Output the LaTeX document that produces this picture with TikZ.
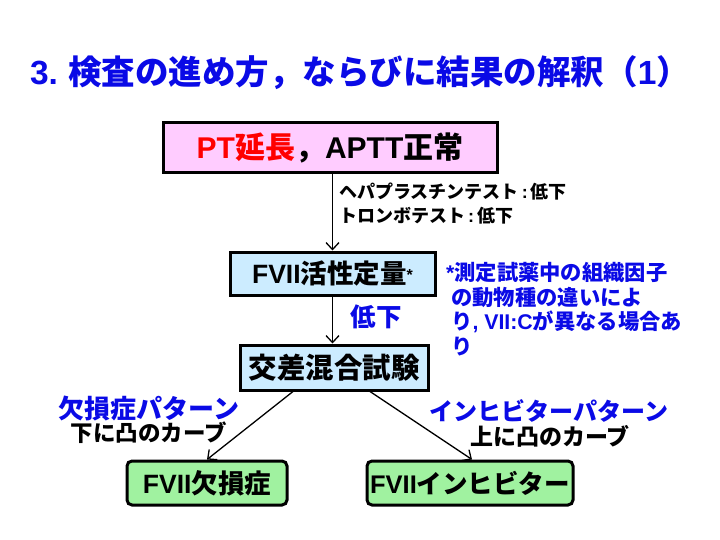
\documentclass[tikz,border=0pt]{standalone}
\usepackage{fontspec}
\setmainfont{Noto Sans CJK JP}
\newfontfamily\lat{Liberation Sans}
\newcommand\La[1]{{\lat\bfseries #1}}
\newcommand\fs[1]{\fontsize{#1}{#1}\selectfont}
\usetikzlibrary{arrows.meta}
\definecolor{pinkbox}{HTML}{FFCCFF}
\definecolor{bluebox}{HTML}{CCECFF}
\definecolor{greenbox}{HTML}{A0F2A0}
\definecolor{titleblue}{HTML}{0A0AE6}
\begin{document}
\begin{tikzpicture}[x=1pt,y=-1pt,
  every node/.style={font=\bfseries},
  box/.style={draw=black,line width=3pt,inner sep=0pt},
  gbox/.style={box,fill=greenbox,rounded corners=5pt},
  txt/.style={inner sep=0pt},
  note/.style={txt,anchor=west,text=titleblue,font=\bfseries\fs{21.3}},
  arr/.style={line width=1.3pt,-{Straight Barb[length=7pt,width=13pt,line width=1.3pt]}}]
\useasboundingbox (0,0) rectangle (720,540);
\node[txt,text=titleblue,font=\bfseries\fs{33.5}] (title) at (360,73) {\La{3.} 検査の進め方，ならびに結果の解釈（\La{1}）};
\node[box,fill=pinkbox,minimum width=334pt,minimum height=50pt,font=\bfseries\fs{30}] (b1) at (330,148)
  {{\color{red}\La{PT}延長}，\La{APTT}正常};
\node[box,fill=bluebox,minimum width=205pt,minimum height=43pt,font=\bfseries\fs{26.5}] (b2) at (332.5,273.5)
  {\La{FVII}活性定量\raisebox{3pt}{\La{\fs{16}*}}};
\node[box,fill=bluebox,minimum width=188pt,minimum height=45pt,font=\bfseries\fs{28.5}] (b3) at (334,367.5)
  {交差混合試験};
\node[gbox,minimum width=160pt,minimum height=44pt,font=\bfseries\fs{26.5}] (g1) at (207,483)
  {\La{FVII}欠損症};
\node[gbox,minimum width=206pt,minimum height=44pt,font=\bfseries\fs{25.5}] (g2) at (470,483)
  {\La{FVII}インヒビター};
\node[txt,anchor=west,font=\bfseries\fs{18}] (l1) at (339,192) {ヘパプラスチンテスト\La{\,:\,}低下};
\node[txt,anchor=west,font=\bfseries\fs{18}] (l2) at (339,216) {トロンボテスト\La{\,:\,}低下};
\node[txt,text=titleblue,font=\bfseries\fs{25.5}] (low) at (376,317) {低下};
\node[note] (n1) at (446,272) {\La{*}測定試薬中の組織因子};
\node[note] (n2) at (451,297) {の動物種の違いによ};
\node[note] (n3) at (451,322) {り\La{, VII:C}が異なる場合あ};
\node[note] (n4) at (451,347) {り};
\node[txt,text=titleblue,font=\bfseries\fs{26}] (p1) at (149,408) {欠損症パターン};
\node[txt,font=\bfseries\fs{22.5}] (c1) at (149,433) {下に凸のカーブ};
\node[txt,text=titleblue,font=\bfseries\fs{24}] (p2) at (549,411) {インヒビターパターン};
\node[txt,font=\bfseries\fs{23}] (c2) at (550,436) {上に凸のカーブ};
\draw[arr] (b2.north |- b1.south) -- (b2.north);
\draw[arr] (b2.south) -- (b2.south |- b3.north);
\draw[arr] ([xshift=-41pt]b3.south) -- (g1.north);
\draw[arr] ([xshift=36pt]b3.south) -- ([xshift=2pt]g2.north);
\end{tikzpicture}
\end{document}
